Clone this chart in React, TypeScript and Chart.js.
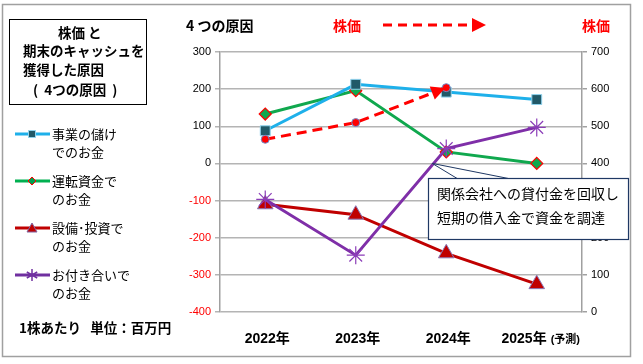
import React, { useEffect, useRef } from 'react';
import { Chart, registerables } from 'chart.js';
Chart.register(...registerables);

const categories = ['2022年', '2023年', '2024年', '2025年'];
const categoryNotes = ['', '', '', '(予測)'];
const operatingCash = [88, 213, 192, 172];
const workingCapitalCash = [133, 196, 31, 0];
const investmentCash = [-110, -138, -242, -325];
const relationCash = [-97, -247, 40, 97];
const stockPrice = [465, 510, 604, null];
const leftRange = [-400, 300];
const rightRange = [0, 700];

const legendItems = [
  { lines: ['事業の儲け', 'でのお金'], color: '#1EB0EA', marker: 'rect', fill: '#215968', stroke: '#8FD3EE' },
  { lines: ['運転資金で', 'のお金'], color: '#00B050', marker: 'diamond', fill: '#00A050', stroke: '#FF0000' },
  { lines: ['設備･投資で', 'のお金'], color: '#C00000', marker: 'triangle', fill: '#C00000', stroke: '#8064A2' },
  { lines: ['お付き合いで', 'のお金'], color: '#7030A0', marker: 'star', fill: '#7030A0', stroke: '#7030A0' },
];

const NUM = '"Liberation Sans", Arial, "Noto Sans CJK JP", sans-serif';
const JP = '"Noto Sans CJK JP", "Liberation Sans", sans-serif';

function drawMarker(ctx: CanvasRenderingContext2D, kind: string, x: number, y: number, fill: string, stroke: string) {
  ctx.save();
  ctx.fillStyle = fill;
  ctx.strokeStyle = stroke;
  ctx.lineWidth = 1;
  ctx.beginPath();
  if (kind === 'rect') {
    ctx.rect(x - 3.5, y - 3.5, 7, 7);
    ctx.fill(); ctx.stroke();
  } else if (kind === 'diamond') {
    ctx.moveTo(x, y - 4); ctx.lineTo(x + 4, y); ctx.lineTo(x, y + 4); ctx.lineTo(x - 4, y); ctx.closePath();
    ctx.fill(); ctx.stroke();
  } else if (kind === 'triangle') {
    ctx.moveTo(x, y - 5); ctx.lineTo(x + 5, y + 4); ctx.lineTo(x - 5, y + 4); ctx.closePath();
    ctx.fill(); ctx.stroke();
  } else {
    ctx.lineWidth = 1.5;
    const r = 6;
    for (let a = 0; a < 3; a++) {
      const ang = Math.PI / 2 + (a * Math.PI) / 3;
      ctx.moveTo(x - r * Math.cos(ang), y - r * Math.sin(ang));
      ctx.lineTo(x + r * Math.cos(ang), y + r * Math.sin(ang));
    }
    ctx.stroke();
  }
  ctx.restore();
}

const overlayPlugin = {
  id: 'overlay',
  beforeDraw(chart: any) {
    const ctx = chart.ctx as CanvasRenderingContext2D;
    ctx.save();
    ctx.fillStyle = '#FFFFFF';
    ctx.fillRect(0, 0, chart.width, chart.height);
    ctx.strokeStyle = '#A0A0A0';
    ctx.lineWidth = 1.5;
    ctx.strokeRect(2.5, 4.5, 628, 352);
    ctx.restore();
  },
  afterDatasetsDraw(chart: any) {
    const ctx = chart.ctx as CanvasRenderingContext2D;
    // arrow head on stock price line
    const meta = chart.getDatasetMeta(0);
    const pts = meta.data.filter((p: any) => !p.skip && isFinite(p.y));
    if (pts.length >= 2) {
      const a = pts[pts.length - 2];
      const b = pts[pts.length - 1];
      const dx = b.x - a.x, dy = b.y - a.y;
      const len = Math.hypot(dx, dy);
      const ux = dx / len, uy = dy / len;
      const tipX = b.x - ux * 1, tipY = b.y - uy * 1;
      const baseX = tipX - ux * 14, baseY = tipY - uy * 14;
      ctx.save();
      ctx.fillStyle = '#FF0000';
      ctx.beginPath();
      ctx.moveTo(tipX, tipY);
      ctx.lineTo(baseX - uy * 7, baseY + ux * 7);
      ctx.lineTo(baseX + uy * 7, baseY - ux * 7);
      ctx.closePath();
      ctx.fill();
      ctx.restore();
    }
  },
  afterDraw(chart: any) {
    const ctx = chart.ctx as CanvasRenderingContext2D;
    const xs = chart.scales.x;
    const yl = chart.scales.y;
    ctx.save();
    ctx.textBaseline = 'middle';
    ctx.textAlign = 'left';

    // title box
    ctx.strokeStyle = '#000000';
    ctx.lineWidth = 1;
    ctx.strokeRect(9.5, 19.5, 137, 85);
    ctx.fillStyle = '#000000';
    ctx.font = `bold 13.5px ${JP}`;
    ctx.fillText('株価 と', 58, 33);
    ctx.fillText('期末のキャッシュを', 23, 51);
    ctx.fillText('獲得した原因', 23, 70);
    ctx.fillText('(  4つの原因  )', 33, 90);

    // header texts
    ctx.font = `bold 14px ${JP}`;
    ctx.fillText('4 つの原因', 186, 26);
    ctx.fillStyle = '#FF0000';
    ctx.fillText('株価', 333, 26);
    ctx.fillText('株価', 582, 26);
    ctx.strokeStyle = '#FF0000';
    ctx.lineWidth = 3;
    ctx.setLineDash([9, 6]);
    ctx.beginPath();
    ctx.moveTo(383, 25);
    ctx.lineTo(472, 25);
    ctx.stroke();
    ctx.setLineDash([]);
    ctx.beginPath();
    ctx.moveTo(486, 25);
    ctx.lineTo(472, 18);
    ctx.lineTo(472, 32);
    ctx.closePath();
    ctx.fill();

    // legend
    const legendY = [134, 181, 228, 275];
    legendItems.forEach((it, i) => {
      const y = legendY[i];
      ctx.strokeStyle = it.color;
      ctx.lineWidth = 3;
      ctx.beginPath();
      ctx.moveTo(15, y);
      ctx.lineTo(50, y);
      ctx.stroke();
      drawMarker(ctx, it.marker, 32, y, it.fill, it.stroke);
      ctx.fillStyle = '#000000';
      ctx.font = `13px ${JP}`;
      ctx.fillText(it.lines[0], 52, y);
      ctx.fillText(it.lines[1], 52, y + 18);
    });
    ctx.font = `bold 13.5px ${JP}`;
    ctx.fillStyle = '#000000';
    ctx.fillText('1株あたり   単位：百万円', 19, 328);

    // x category labels
    categories.forEach((c, i) => {
      const cx = xs.getPixelForValue(i);
      ctx.font = `bold 14px ${NUM}`;
      const w1 = ctx.measureText(c).width;
      const note = categoryNotes[i];
      let w2 = 0;
      if (note) {
        ctx.font = `bold 11px ${NUM}`;
        w2 = ctx.measureText(note).width + 4;
      }
      const start = cx - (w1 + w2) / 2 + (note ? 4 : 2);
      ctx.fillStyle = '#000000';
      ctx.font = `bold 14px ${NUM}`;
      ctx.fillText(c, start, 339);
      if (note) {
        ctx.font = `bold 11px ${NUM}`;
        ctx.fillText(note, start + w1 + 4, 340);
      }
    });

    // callout
    const ax = xs.getPixelForValue(2) - 14;
    const ay = yl.getPixelForValue(0);
    ctx.strokeStyle = '#1F3864';
    ctx.lineWidth = 1;
    ctx.beginPath();
    ctx.moveTo(ax, ay);
    ctx.lineTo(458, 179);
    ctx.moveTo(ax, ay);
    ctx.lineTo(511, 179);
    ctx.stroke();
    ctx.fillStyle = '#FFFFFF';
    ctx.fillRect(428.5, 178.5, 200, 61);
    ctx.strokeStyle = '#1F3864';
    ctx.lineWidth = 1.2;
    ctx.strokeRect(428.5, 178.5, 200, 61);
    ctx.fillStyle = '#000000';
    ctx.font = `14px ${JP}`;
    ctx.fillText('関係会社への貸付金を回収し', 437, 194);
    ctx.fillText('短期の借入金で資金を調達', 437, 218);
    ctx.restore();
  },
};

export default function App() {
  const ref = useRef<HTMLCanvasElement | null>(null);
  useEffect(() => {
    if (!ref.current) return;
    const chart = new Chart(ref.current, {
      type: 'line',
      data: {
        labels: categories,
        datasets: [
          {
            label: '株価',
            data: stockPrice,
            yAxisID: 'y2',
            borderColor: '#FF0000',
            borderWidth: 3,
            borderDash: [10, 6],
            pointStyle: 'circle',
            pointRadius: 4,
            pointBackgroundColor: '#FF0000',
            pointBorderColor: '#6F8FCF',
            pointBorderWidth: 1,
            spanGaps: false,
          },
          {
            label: 'お付き合いでのお金',
            data: relationCash,
            yAxisID: 'y',
            borderColor: '#7F2FA8',
            borderWidth: 3,
            pointStyle: 'star',
            pointRadius: 9,
            pointBorderColor: '#8B3DB8',
            pointBackgroundColor: '#8B3DB8',
            pointBorderWidth: 1.2,
          },
          {
            label: '事業の儲けでのお金',
            data: operatingCash,
            yAxisID: 'y',
            borderColor: '#1EB0EA',
            borderWidth: 3,
            pointStyle: 'rect',
            pointRadius: 7,
            pointBackgroundColor: '#215968',
            pointBorderColor: '#8FD3EE',
            pointBorderWidth: 1,
          },
          {
            label: '運転資金でのお金',
            data: workingCapitalCash,
            yAxisID: 'y',
            borderColor: '#10A84E',
            borderWidth: 3,
            pointStyle: 'rectRot',
            pointRadius: 6,
            pointBackgroundColor: '#10A84E',
            pointBorderColor: '#FF0000',
            pointBorderWidth: 1.2,
          },
          {
            label: '設備･投資でのお金',
            data: investmentCash,
            yAxisID: 'y',
            borderColor: '#C00000',
            borderWidth: 3,
            pointStyle: 'triangle',
            pointRadius: 9,
            pointBackgroundColor: '#C00000',
            pointBorderColor: '#8A7AB8',
            pointBorderWidth: 1,
          },
        ],
      },
      options: {
        responsive: false,
        animation: false,
        devicePixelRatio: 1,
        layout: { padding: { left: 170, right: 21, top: 52, bottom: 12 } },
        plugins: { legend: { display: false }, tooltip: { enabled: false }, title: { display: false } },
        scales: {
          x: {
            offset: true,
            grid: { display: false, offset: true },
            border: { display: false },
            ticks: { display: false },
            afterFit: (s: any) => { s.height = 40; },
          },
          y: {
            position: 'left',
            min: leftRange[0],
            max: leftRange[1],
            ticks: {
              stepSize: 100,
              padding: 4,
              font: { family: NUM, size: 11 },
              color: (c: any) => (c.tick && c.tick.value < 0 ? '#FF0000' : '#000000'),
            },
            grid: { color: '#B4B4B4', lineWidth: 1.5, tickLength: 5 },
            border: { display: true, color: '#A0A0A0', width: 1.5 },
            afterFit: (s: any) => { s.width = 50; },
          },
          y2: {
            position: 'right',
            min: rightRange[0],
            max: rightRange[1],
            ticks: { stepSize: 100, padding: 4, font: { family: NUM, size: 11 }, color: '#000000' },
            grid: { drawOnChartArea: false, color: '#A0A0A0', lineWidth: 1.5, tickLength: 5 },
            border: { display: true, color: '#A0A0A0', width: 1.5 },
            afterFit: (s: any) => { s.width = 40; },
          },
        },
      },
      plugins: [overlayPlugin],
    });
    return () => chart.destroy();
  }, []);
  return (
    <div style={{ position: 'fixed', left: 0, top: 0, width: 643, height: 364 }}>
      <canvas ref={ref} width={643} height={364} style={{ display: 'block' }} />
    </div>
  );
}
